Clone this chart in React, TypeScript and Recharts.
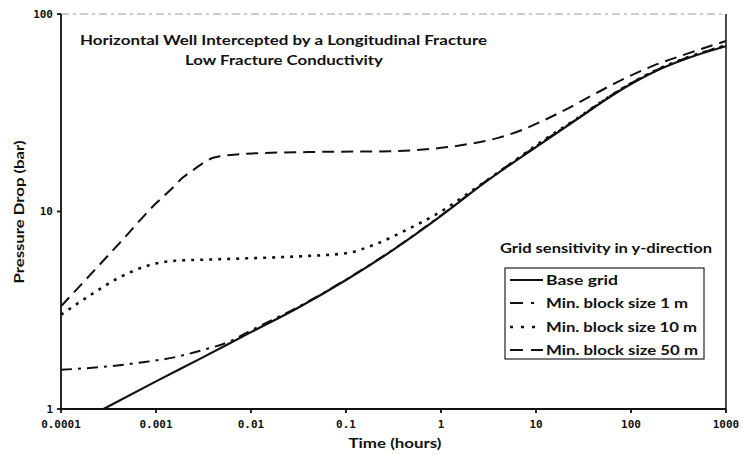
import React from "react";
import { LineChart, Line, XAxis, YAxis, ReferenceLine } from "recharts";

const xTicks = [0.0001, 0.001, 0.01, 0.1, 1, 10, 100, 1000];
const xTickLabels = ["0.0001", "0.001", "0.01", "0.1", "1", "10", "100", "1000"];
const yTicks = [1, 10, 100];
const yTickLabels = ["1", "10", "100"];

const baseT = [0.00028, 0.001, 0.003, 0.01, 0.03, 0.1, 0.3, 1, 3, 10, 30, 50, 100, 200, 400, 1000];
const baseP = [1.0, 1.38, 1.81, 2.45, 3.22, 4.5, 6.3, 9.5, 14.2, 21.2, 30.3, 35.9, 44.2, 52.5, 59.9, 68.7];

const m1T = [0.0001, 0.0003, 0.0007, 0.0015, 0.003, 0.006, 0.01, 0.03, 0.1, 0.3, 1, 3, 10, 30, 50, 100, 200, 400, 1000];
const m1P = [1.58, 1.64, 1.72, 1.82, 1.98, 2.2, 2.5, 3.25, 4.52, 6.33, 9.55, 14.3, 21.4, 30.5, 36.2, 44.6, 52.9, 60.4, 69.3];

const m10T = [0.0001, 0.0002, 0.0004, 0.0008, 0.0015, 0.004, 0.01, 0.03, 0.1, 0.2, 0.44, 1, 2.2, 5, 10, 30, 50, 100, 200, 400, 1000];
const m10P = [3.0, 3.75, 4.6, 5.3, 5.62, 5.72, 5.8, 5.92, 6.15, 6.8, 8.1, 10.0, 12.9, 17.0, 21.6, 30.6, 36.2, 44.6, 52.9, 60.4, 69.3];

const m50T = [0.0001, 0.00023, 0.00044, 0.001, 0.0015, 0.0019, 0.0025, 0.0033, 0.004, 0.0053, 0.0075, 0.011, 0.04, 0.3, 1, 2, 4, 7, 12, 20, 40, 80, 170, 400, 1000];
const m50P = [3.31, 5.1, 7.15, 11.0, 13.2, 14.8, 16.3, 17.9, 18.7, 19.2, 19.5, 19.7, 20.0, 20.2, 21.0, 22.0, 23.6, 25.8, 28.9, 32.6, 39.0, 46.4, 54.6, 63.2, 73.0];

const seriesNames = ["Base grid", "Min. block size 1 m", "Min. block size 10 m", "Min. block size 50 m"];

const toData = (t: number[], p: number[]) => t.map((v, i) => ({ t: v, p: p[i] }));

const baseData = toData(baseT, baseP);
const m1Data = toData(m1T, m1P);
const m10Data = toData(m10T, m10P);
const m50Data = toData(m50T, m50P);

const textFont = "Lato, 'DejaVu Sans', sans-serif";
const monoFont = "'DejaVu Sans Mono', 'Liberation Mono', monospace";

const fmtX = (v: number) => {
  const i = xTicks.findIndex((x) => Math.abs(x - v) / x < 1e-6);
  return i >= 0 ? xTickLabels[i] : String(v);
};
const fmtY = (v: number) => {
  const i = yTicks.findIndex((x) => Math.abs(x - v) / x < 1e-6);
  return i >= 0 ? yTickLabels[i] : String(v);
};

export default function App() {
  return (
    <div style={{ position: "absolute", left: 0, top: 0, width: 742, height: 454, background: "#fff" }}>
      <LineChart width={742} height={454} margin={{ top: 14, right: 16, bottom: 0, left: 0 }}>
        <XAxis
          dataKey="t"
          type="number"
          scale="log"
          domain={[0.0001, 1000]}
          ticks={xTicks}
          tickFormatter={fmtX}
          allowDataOverflow
          height={45}
          stroke="#111"
          strokeWidth={1.8}
          tickSize={4}
          tickMargin={7}
          tick={{ fontFamily: monoFont, fontSize: 11, fontWeight: 700, fill: "#111" }}
        />
        <YAxis
          dataKey="p"
          type="number"
          scale="log"
          domain={[1, 100]}
          ticks={yTicks}
          tickFormatter={fmtY}
          allowDataOverflow
          width={61}
          stroke="#111"
          strokeWidth={1.8}
          tickSize={4}
          tickMargin={4}
          tick={{ fontFamily: monoFont, fontSize: 11, fontWeight: 700, fill: "#111" }}
        />
        <ReferenceLine y={100} stroke="#999" strokeWidth={1} strokeDasharray="8 4 3 4" />
        <ReferenceLine x={1000} stroke="#111" strokeWidth={1.5} />
        <Line data={m50Data} dataKey="p" name={seriesNames[3]} type="monotone" stroke="#111" strokeWidth={2} strokeDasharray="12 7" dot={false} isAnimationActive={false} />
        <Line data={m10Data} dataKey="p" name={seriesNames[2]} type="monotone" stroke="#111" strokeWidth={2.6} strokeDasharray="3 6" dot={false} isAnimationActive={false} />
        <Line data={m1Data} dataKey="p" name={seriesNames[1]} type="monotone" stroke="#111" strokeWidth={2} strokeDasharray="11 6 3 6" dot={false} isAnimationActive={false} />
        <Line data={baseData} dataKey="p" name={seriesNames[0]} type="monotone" stroke="#111" strokeWidth={2.2} dot={false} isAnimationActive={false} />
      </LineChart>
      <svg width={742} height={454} style={{ position: "absolute", left: 0, top: 0, pointerEvents: "none" }}>
        <g fontFamily={textFont} fontWeight={700} fill="#111">
          <text x={283.5} y={45} fontSize={13.5} textAnchor="middle" textLength={407} lengthAdjust="spacingAndGlyphs">
            Horizontal Well Intercepted by a Longitudinal Fracture
          </text>
          <text x={284} y={65} fontSize={13.5} textAnchor="middle" textLength={198} lengthAdjust="spacingAndGlyphs">
            Low Fracture Conductivity
          </text>
          <text x={0} y={0} fontSize={13} textAnchor="middle" transform="translate(24,212) rotate(-90)" textLength={143} lengthAdjust="spacingAndGlyphs">
            Pressure Drop (bar)
          </text>
          <text x={395} y={448} fontSize={13.5} textAnchor="middle" textLength={93} lengthAdjust="spacingAndGlyphs">
            Time (hours)
          </text>
          <text x={606} y={253} fontSize={13.5} textAnchor="middle" textLength={212} lengthAdjust="spacingAndGlyphs">
            Grid sensitivity in y-direction
          </text>
          <rect x={505} y={268} width={199} height={91} fill="#fff" stroke="#222" strokeWidth={1.2} />
          <line x1={510} y1={280} x2={543} y2={280} stroke="#111" strokeWidth={2.2} />
          <text x={546} y={285} fontSize={13.5} textLength={72} lengthAdjust="spacingAndGlyphs">{seriesNames[0]}</text>
          <line x1={510} y1={303} x2={543} y2={303} stroke="#111" strokeWidth={2} strokeDasharray="13 8 3 20" />
          <text x={546} y={308} fontSize={13.5} textLength={142} lengthAdjust="spacingAndGlyphs">{seriesNames[1]}</text>
          <line x1={510} y1={327} x2={543} y2={327} stroke="#111" strokeWidth={2.4} strokeDasharray="3 8" />
          <text x={546} y={332} fontSize={13.5} textLength={151} lengthAdjust="spacingAndGlyphs">{seriesNames[2]}</text>
          <line x1={510} y1={350} x2={543} y2={350} stroke="#111" strokeWidth={2} strokeDasharray="13 8" />
          <text x={546} y={355} fontSize={13.5} textLength={152} lengthAdjust="spacingAndGlyphs">{seriesNames[3]}</text>
        </g>
      </svg>
    </div>
  );
}
